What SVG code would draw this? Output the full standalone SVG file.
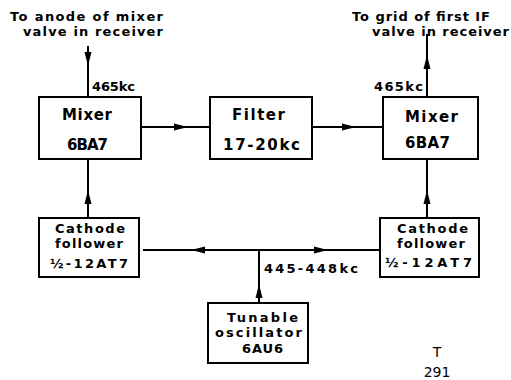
<svg xmlns="http://www.w3.org/2000/svg" width="511" height="380" viewBox="0 0 511 380">
<style>
.box{fill:#fff;stroke:#000;stroke-width:2}
.ln{fill:none;stroke:#000;stroke-width:2}
.t{font-family:"DejaVu Sans","Liberation Sans",sans-serif;font-weight:bold;fill:#000}
.b{font-size:15px}
.s{font-size:13px}
.n{font-family:"DejaVu Sans",sans-serif;font-size:14px;fill:#000}
</style>
<defs>
<path id="ah" d="M0,0 L-14,-3.5 L-14,3.5 Z" fill="#000"/>
</defs>
<rect width="511" height="380" fill="#fff"/>
<g id="connectors">
<line class="ln" x1="88" y1="46" x2="88" y2="97"/>
<line class="ln" x1="427" y1="34" x2="427" y2="97"/>
<line class="ln" x1="141" y1="127" x2="210" y2="127"/>
<line class="ln" x1="312" y1="127" x2="383" y2="127"/>
<line class="ln" x1="88" y1="159" x2="88" y2="218"/>
<line class="ln" x1="427" y1="159" x2="427" y2="218"/>
<line class="ln" x1="143" y1="250" x2="380" y2="250"/>
<line class="ln" x1="259" y1="250" x2="259" y2="303"/>
<use href="#ah" transform="translate(88,66) rotate(90)"/>
<use href="#ah" transform="translate(427,55) rotate(-90)"/>
<use href="#ah" transform="translate(188,127)"/>
<use href="#ah" transform="translate(356,127)"/>
<use href="#ah" transform="translate(88,190) rotate(-90)"/>
<use href="#ah" transform="translate(427,190) rotate(-90)"/>
<use href="#ah" transform="translate(191,250) rotate(180)"/>
<use href="#ah" transform="translate(328,250)"/>
<use href="#ah" transform="translate(259,284) rotate(-90)"/>
<text class="t s" x="92" y="91" textLength="43">465kc</text>
<text class="t s" x="374" y="91" textLength="49">465kc</text>
<text class="t s" x="264" y="273" textLength="94">445-448kc</text>
</g>
<g id="label-anode">
<text class="t s" x="10" y="21" textLength="153">To anode of mixer</text>
<text class="t s" x="23" y="36" textLength="140">valve in receiver</text>
</g>
<g id="label-grid">
<text class="t s" x="352" y="21" textLength="138">To grid of first IF</text>
<text class="t s" x="372" y="36" textLength="137">valve in receiver</text>
</g>
<g id="mixer1">
<rect class="box" x="39" y="97" width="102" height="62"/>
<text class="t b" x="62" y="120" textLength="50">Mixer</text>
<text class="t b" x="67" y="150" textLength="41">6BA7</text>
</g>
<g id="filter">
<rect class="box" x="210" y="97" width="102" height="62"/>
<text class="t b" x="232" y="120" textLength="53">Filter</text>
<text class="t b" x="223" y="150" textLength="77">17-20kc</text>
</g>
<g id="mixer2">
<rect class="box" x="383" y="97" width="95" height="62"/>
<text class="t b" x="405" y="122" textLength="53">Mixer</text>
<text class="t b" x="405" y="148" textLength="45">6BA7</text>
</g>
<g id="cathode1">
<rect class="box" x="39" y="218" width="100" height="59"/>
<text class="t s" x="55" y="233" textLength="70">Cathode</text>
<text class="t s" x="55" y="248" textLength="68">follower</text>
<text class="t s" x="50" y="268" textLength="78">½-12AT7</text>
</g>
<g id="cathode2">
<rect class="box" x="380" y="218" width="99" height="59"/>
<text class="t s" x="397" y="233" textLength="71">Cathode</text>
<text class="t s" x="397" y="248" textLength="68">follower</text>
<text class="t s" x="385" y="267" textLength="87">½-12AT7</text>
</g>
<g id="oscillator">
<rect class="box" x="208" y="303" width="100" height="60"/>
<text class="t s" x="227" y="322" textLength="71">Tunable</text>
<text class="t s" x="215" y="337" textLength="87">oscillator</text>
<text class="t s" x="242" y="353" textLength="41">6AU6</text>
</g>
<g id="ref">
<text class="n" x="437" y="357" text-anchor="middle">T</text>
<text class="n" x="437" y="377" text-anchor="middle">291</text>
</g>
</svg>
